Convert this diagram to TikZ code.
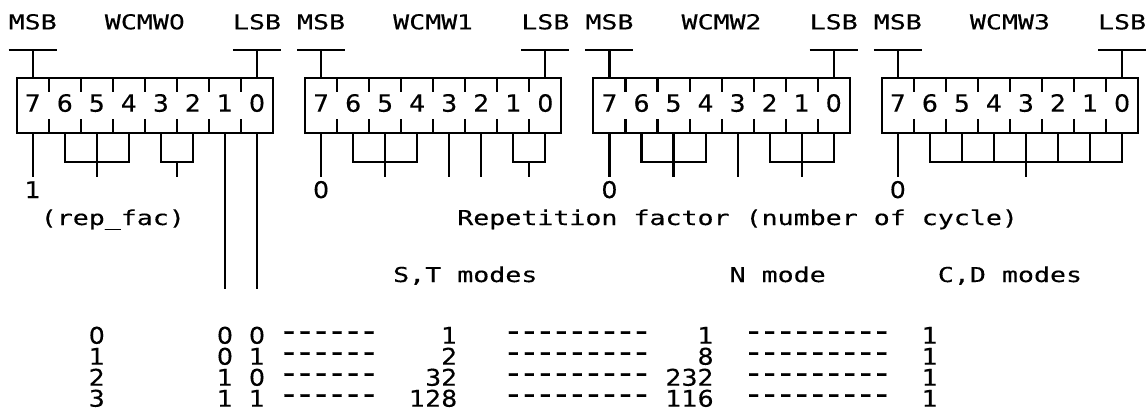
\documentclass[tikz,border=0pt]{standalone}
\usepackage{fontspec}
\usepackage{graphicx}
\newfontfamily\monofam[FakeBold=0.3]{DejaVu Sans Mono}
\newfontfamily\digfam[FakeBold=0.3]{DejaVu Sans}
\newcommand{\sx}[1]{\scalebox{1.2981}[1]{#1}}
\newcommand{\sxn}[1]{\scalebox{1.2286}[1]{\digfam #1}}
\newcommand{\sxb}[1]{\scalebox{1.2286}[1.16]{\digfam #1}}
\newcommand{\sxd}[1]{\scalebox{1.2286}[1.12]{\digfam #1}}
\newcommand{\dd}{\makebox[16.02pt][c]{\raisebox{1.5pt}{\scalebox{0.86}[1.5]{−}}}}
\newcommand{\dsh}[1]{\foreach \j in {1,...,#1}{\dd}}
\def\cw{16.02}
\def\xo{8.7}
\tikzset{
  txt/.style={anchor=base west, inner sep=0pt, outer sep=0pt, font=\monofam\fontsize{20.5}{24}\selectfont},
  ln/.style={line width=2.1pt, line cap=butt, line join=miter}
}
\begin{document}
\begin{tikzpicture}[x=1pt, y=-1pt]
\useasboundingbox (0,0) rectangle (1146,420);
% ---------- top part of the four words ----------
\foreach \w in {0,1,2,3}{
  \pgfmathsetmacro{\B}{18*\w}
  \node[txt] (msb\w) at ({\xo+\B*\cw},29.3) {\sx{MSB}};
  \node[txt] (name\w) at ({\xo+(\B+6)*\cw},29.3) {\sx{WCMW}\sxn{\w}};
  \node[txt] (lsb\w) at ({\xo+(\B+14)*\cw},29.3) {\sx{LSB}};
  % MSB / LSB bars
  \draw[ln] ({\xo+\B*\cw},50) -- ({\xo+(\B+3)*\cw},50);
  \draw[ln] ({\xo+(\B+1.5)*\cw},50) -- ({\xo+(\B+1.5)*\cw},78);
  \draw[ln] ({\xo+(\B+14)*\cw},50) -- ({\xo+(\B+17)*\cw},50);
  \draw[ln] ({\xo+(\B+15.5)*\cw},50) -- ({\xo+(\B+15.5)*\cw},78);
  % box
  \draw[ln] ({\xo+(\B+0.5)*\cw},78) rectangle ({\xo+(\B+16.5)*\cw},133);
  \foreach \k in {1,...,7}{
    \draw[ln] ({\xo+(\B+2*\k+0.5)*\cw},78) -- ({\xo+(\B+2*\k+0.5)*\cw},91.7);
    \draw[ln] ({\xo+(\B+2*\k+0.5)*\cw},119) -- ({\xo+(\B+2*\k+0.5)*\cw},133);
  }
  \foreach \i in {0,...,7}{
    \pgfmathtruncatemacro{\bit}{7-\i}
    \node[txt] (d\w-\bit) at ({\xo+(\B+1+2*\i)*\cw},111.7) {\sxb{\bit}};
  }
}
% ---------- bottom connectors ----------
\def\H{162.3}
\def\S{176.7}
% straight single lines
\foreach \c in {1,19,27,29,37,45,55}{
  \draw[ln] ({\xo+(\c+0.5)*\cw},133) -- ({\xo+(\c+0.5)*\cw},\S);
}
% groups: first col, last col, stub col
\foreach \a/\b/\s in {3/7/5, 9/11/10, 21/25/23, 31/33/32, 39/43/41, 47/51/49, 57/69/63}{
  \draw[ln] ({\xo+(\a+0.5)*\cw},133) -- ({\xo+(\a+0.5)*\cw},\H) -- ({\xo+(\b+0.5)*\cw},\H) -- ({\xo+(\b+0.5)*\cw},133);
  \draw[ln] ({\xo+(\s+0.5)*\cw},\H) -- ({\xo+(\s+0.5)*\cw},\S);
}
% inner verticals of groups
\foreach \c in {5,23,41,49,59,61,63,65,67}{
  \draw[ln] ({\xo+(\c+0.5)*\cw},133) -- ({\xo+(\c+0.5)*\cw},\H);
}
% long lines of bits 1 and 0 of WCMW0
\draw[ln] ({\xo+13.5*\cw},133) -- ({\xo+13.5*\cw},289.3);
\draw[ln] ({\xo+15.5*\cw},133) -- ({\xo+15.5*\cw},289.3);
% ---------- labels ----------
\node[txt] (v0) at ({\xo+1*\cw},198) {\sxd{1}};
\node[txt] (v1) at ({\xo+19*\cw},198) {\sxd{0}};
\node[txt] (v2) at ({\xo+37*\cw},198) {\sxd{0}};
\node[txt] (v3) at ({\xo+55*\cw},198) {\sxd{0}};
\node[txt] (repfac) at ({\xo+2*\cw},225) {\sx{(rep{\char95}fac)}};
\node[txt] (repet) at ({\xo+28*\cw},225) {\sx{Repetition factor (number of cycle)}};
\node[txt] (hst) at ({\xo+24*\cw},282) {\sx{S,T modes}};
\node[txt] (hn) at ({\xo+45*\cw},282) {\sx{N mode}};
\node[txt] (hcd) at ({\xo+58*\cw},282) {\sx{C,D modes}};
% ---------- table ----------
\foreach \r/\ba/\bb/\st/\nst/\nv/\nnv in {0/0/0/1/1/1/1, 1/0/1/2/1/8/1, 2/1/0/32/2/232/3, 3/1/1/128/3/116/3}{
  \pgfmathsetmacro{\yy}{343.7+21*\r}
  \node[txt] (idx\r) at ({\xo+5*\cw},\yy) {\sxd{\r}};
  \node[txt] (ba\r) at ({\xo+13*\cw},\yy) {\sxd{\ba}};
  \node[txt] (bb\r) at ({\xo+15*\cw},\yy) {\sxd{\bb}};
  \node[txt] (da\r) at ({\xo+17*\cw},\yy) {\dsh{6}};
  \node[txt] (st\r) at ({\xo+(28-\nst)*\cw},\yy) {\sxd{\st}};
  \node[txt] (db\r) at ({\xo+31*\cw},\yy) {\dsh{9}};
  \node[txt] (nv\r) at ({\xo+(44-\nnv)*\cw},\yy) {\sxd{\nv}};
  \node[txt] (dc\r) at ({\xo+46*\cw},\yy) {\dsh{9}};
  \node[txt] (cd\r) at ({\xo+57*\cw},\yy) {\sxd{1}};
}
\end{tikzpicture}
\end{document}
